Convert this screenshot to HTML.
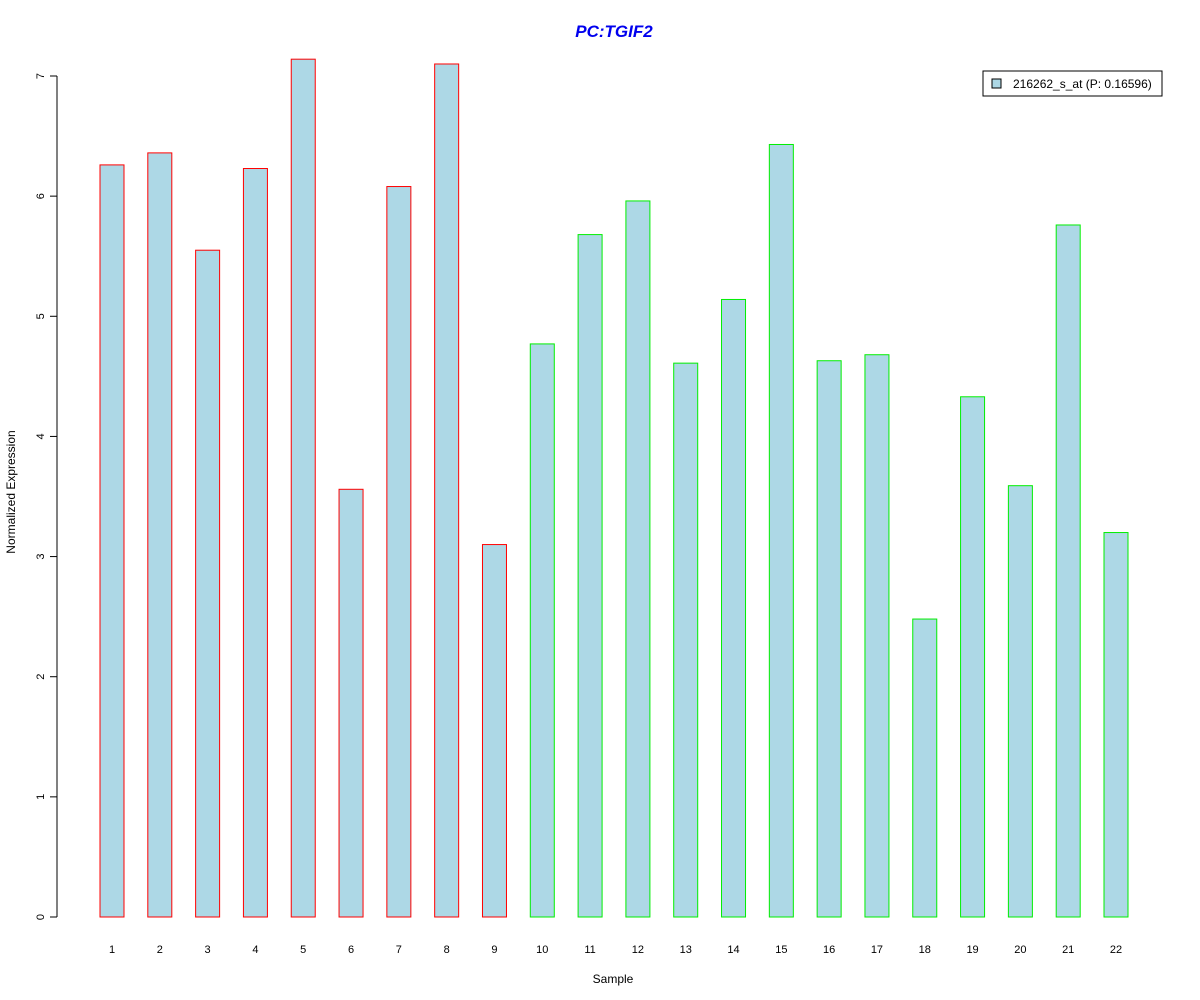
<!DOCTYPE html>
<html><head><meta charset="utf-8"><style>body{margin:0;background:#fff}svg{display:block;font-family:"Liberation Sans",Arial,sans-serif}</style></head>
<body>
<svg id="chart" width="1200" height="1000">
<text x="614" y="37" text-anchor="middle" font-size="17" font-weight="bold" font-style="italic" fill="#0000ee">PC:TGIF2</text>
<g id="yaxis"></g>
<g id="bars"></g>
<g id="xlabels"></g>
<text x="613" y="983" text-anchor="middle" font-size="12">Sample</text>
<text transform="translate(15,492) rotate(-90)" text-anchor="middle" font-size="12">Normalized Expression</text>
<g>
<rect x="983" y="71" width="179" height="25" fill="#fff" stroke="#000"/>
<rect x="992" y="79" width="9" height="9" fill="#add8e6" stroke="#000"/>
<text x="1013" y="88" font-size="12">216262_s_at (P: 0.16596)</text>
</g>
</svg>
<script>
const categories=["1","2","3","4","5","6","7","8","9","10","11","12","13","14","15","16","17","18","19","20","21","22"];
const values=[6.26,6.36,5.55,6.23,7.14,3.56,6.08,7.10,3.10,4.77,5.68,5.96,4.61,5.14,6.43,4.63,4.68,2.48,4.33,3.59,5.76,3.20];
const groups=["a","a","a","a","a","a","a","a","a","b","b","b","b","b","b","b","b","b","b","b","b","b"];
const yTicks=[0,1,2,3,4,5,6,7];
const NS="http://www.w3.org/2000/svg";
const y0=917,yPer=(917-76)/7;
function yScale(v){return y0-v*yPer;}
function xScale(i){return 112+i*(1116-112)/21;}
const ya=document.getElementById('yaxis');
let l=document.createElementNS(NS,'line');


l.setAttribute('x1',57);l.setAttribute('x2',57);l.setAttribute('y1',yScale(0));l.setAttribute('y2',yScale(7));l.setAttribute('stroke','#000');ya.appendChild(l);
yTicks.forEach(t=>{
 const k=document.createElementNS(NS,'line');
 
 
 k.setAttribute('x1',50);k.setAttribute('x2',57);k.setAttribute('y1',yScale(t));k.setAttribute('y2',yScale(t));k.setAttribute('stroke','#000');ya.appendChild(k);
 const tx=document.createElementNS(NS,'text');
 
 
 tx.setAttribute('transform',`translate(44,${yScale(t)}) rotate(-90)`);tx.setAttribute('text-anchor','middle');tx.setAttribute('font-size','11');tx.textContent=t;ya.appendChild(tx);
});
const bg=document.getElementById('bars'),xl=document.getElementById('xlabels');
values.forEach((v,i)=>{
 const r=document.createElementNS(NS,'rect');
 
 
 r.setAttribute('x',xScale(i)-12);r.setAttribute('width',24);r.setAttribute('y',yScale(v));r.setAttribute('height',yScale(0)-yScale(v));
 r.setAttribute('fill','#add8e6');r.setAttribute('stroke',groups[i]==='a'?'#ff0000':'#00ee00');bg.appendChild(r);
 const tx=document.createElementNS(NS,'text');
 
 
 tx.setAttribute('x',xScale(i));tx.setAttribute('y',953);tx.setAttribute('text-anchor','middle');tx.setAttribute('font-size','11');tx.textContent=categories[i];xl.appendChild(tx);
});
</script>
</body></html>
